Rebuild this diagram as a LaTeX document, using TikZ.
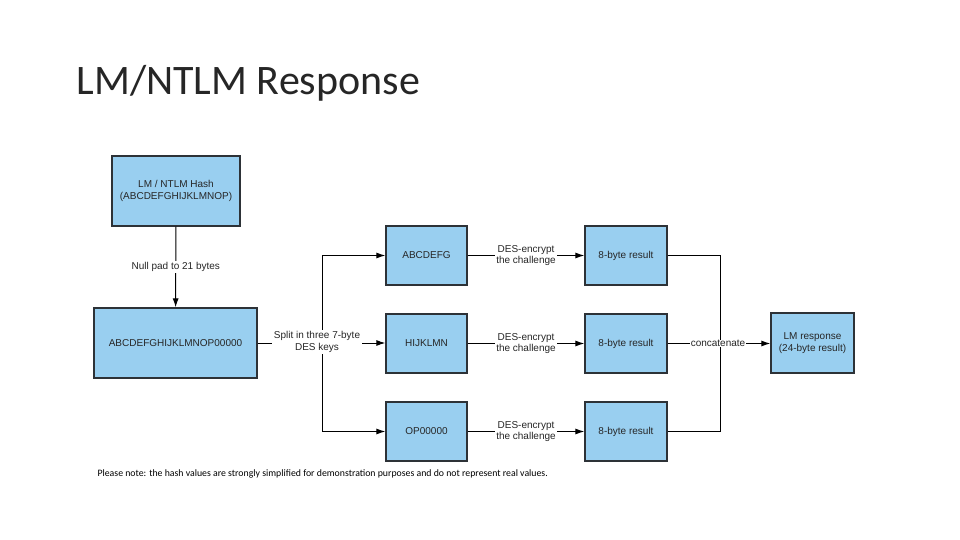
\documentclass[tikz,border=0pt]{standalone}
\usepackage{fontspec}
\setmainfont{Liberation Sans}
\newfontfamily\calib{Carlito}
\usetikzlibrary{arrows.meta}
\definecolor{boxblue}{RGB}{153,207,240}
\definecolor{boxline}{RGB}{45,50,55}
\begin{document}
\begin{tikzpicture}[x=1pt,y=-1pt,
  box/.style={draw=boxline,line width=1.3pt,fill=boxblue,minimum width=#1,align=center,font=\fontsize{10}{12}\selectfont,text=black!85},
  box/.default=81pt,
  conn/.style={line width=1pt,draw=black},
  arr/.style={conn,-{Latex[length=9pt,width=6pt]}},
  lbl/.style={fill=white,inner sep=1.5pt,align=center,font=\fontsize{10}{11.5}\selectfont,text=black!85}]
\useasboundingbox (0,0) rectangle (960,540);
\node[anchor=base west,font=\calib\fontsize{42}{44}\selectfont,text=black!85] (title) at (73,95) {LM/NTLM Response};
\node[box=128pt,minimum height=70pt] (hash) at (176,191) {LM / NTLM Hash\\(ABCDEFGHIJKLMNOP)};
\node[box=163pt,minimum height=70pt] (pad) at (175.5,343) {ABCDEFGHIJKLMNOP00000};
\node[box,minimum height=59pt] (k1) at (426.5,255.5) {ABCDEFG};
\node[box,minimum height=59pt] (k2) at (426.5,343.5) {HIJKLMN};
\node[box,minimum height=59pt] (k3) at (426.5,431.5) {OP00000};
\node[box=82pt,minimum height=59pt] (r1) at (626,255.5) {8-byte result};
\node[box=82pt,minimum height=59pt] (r2) at (626,343.5) {8-byte result};
\node[box=82pt,minimum height=59pt] (r3) at (626,431.5) {8-byte result};
\node[box=83pt,minimum height=60pt] (lm) at (812.5,343) {LM response\\(24-byte result)};
\coordinate (s1) at (322,255.5);
\coordinate (s3) at (322,431.5);
\coordinate (c1) at (720,255.5);
\coordinate (c3) at (720,431.5);
\draw[arr] (hash) -- node[lbl] {Null pad to 21 bytes} (pad);
\draw[conn] (s1) -- (s3);
\draw[arr] (s1) -- (k1);
\draw[arr] (s3) -- (k3);
\draw[arr] (pad.east) -- (k2.west |- pad.east);
\node[lbl] (split) at (317,342) {Split in three 7-byte\\DES keys};
\draw[arr] (k1) -- node[lbl] {DES-encrypt\\the challenge} (r1);
\draw[arr] (k2) -- node[lbl] {DES-encrypt\\the challenge} (r2);
\draw[arr] (k3) -- node[lbl] {DES-encrypt\\the challenge} (r3);
\draw[conn] (r1) -- (c1) -- (c3) -- (r3);
\draw[arr] (r2.east) -- (lm.west |- r2.east);
\node[lbl,inner sep=0.5pt] (cat) at (718,343.5) {concatenate};
\node[anchor=base west,font=\calib\fontsize{9.8}{11}\selectfont] (note) at (94,476) {Please note: the hash values are strongly simplified for demonstration purposes and do not represent real values.};
\end{tikzpicture}
\end{document}
